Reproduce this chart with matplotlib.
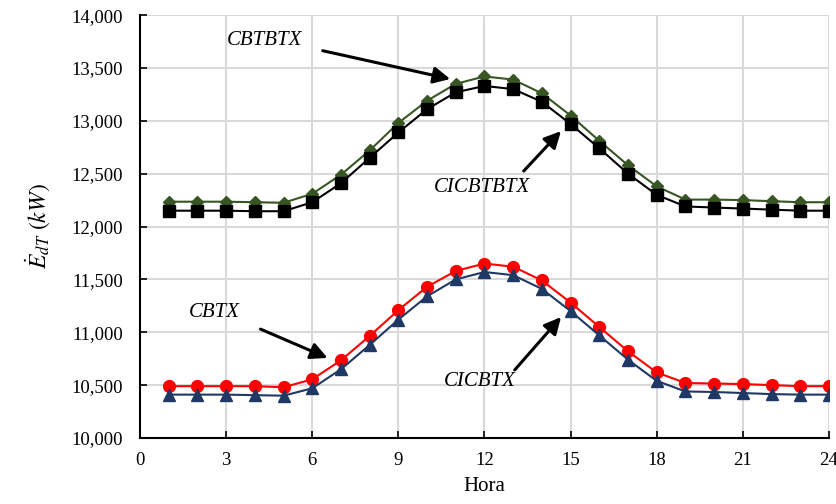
import matplotlib
matplotlib.use("Agg")
import matplotlib.pyplot as plt
from matplotlib.ticker import FuncFormatter

plt.rcParams['font.family'] = ['Liberation Serif', 'DejaVu Serif']
plt.rcParams['mathtext.fontset'] = 'stix'

hora = list(range(1, 25))
cbtbtx = [12235, 12235, 12235, 12230, 12225, 12310, 12490, 12720, 12980, 13190, 13350, 13420,
          13390, 13260, 13050, 12810, 12580, 12380, 12255, 12255, 12250, 12240, 12230, 12230]
cicbtbtx = [12150, 12150, 12150, 12145, 12145, 12230, 12410, 12650, 12890, 13110, 13270, 13330,
            13300, 13180, 12970, 12740, 12500, 12300, 12190, 12180, 12170, 12160, 12150, 12150]
cbtx = [10490, 10490, 10490, 10490, 10480, 10555, 10735, 10965, 11210, 11430, 11580, 11650,
        11620, 11490, 11280, 11050, 10820, 10620, 10520, 10515, 10510, 10500, 10490, 10490]
cicbtx = [10410, 10410, 10410, 10405, 10400, 10470, 10650, 10880, 11120, 11340, 11500, 11570,
          11540, 11410, 11200, 10970, 10740, 10540, 10440, 10435, 10425, 10415, 10410, 10410]

fig = plt.figure(figsize=(8.37, 5.04), dpi=100)
ax = fig.add_axes([0.1673, 0.131, 0.8231, 0.839])

ax.plot(hora, cbtbtx, color='#375623', lw=1.5, marker='D', ms=6.5, zorder=3)
ax.plot(hora, cicbtbtx, color='black', lw=1.5, marker='s', ms=8.5, zorder=3)
ax.plot(hora, cbtx, color='#FF0000', lw=1.5, marker='o', ms=8.5, zorder=3)
ax.plot(hora, cicbtx, color='#1F3864', lw=1.5, marker='^', ms=8.5, zorder=3)

ax.set_xlim(0, 24)
ax.set_ylim(10000, 14000)
ax.set_xticks(range(0, 25, 3))
ax.set_yticks(range(10000, 14001, 500))
ax.yaxis.set_major_formatter(FuncFormatter(lambda v, p: f'{int(v):,}'))
ax.grid(True, color='#d9d9d9', lw=1.5, zorder=0)
ax.set_axisbelow(True)
for s in ['top', 'right']:
    ax.spines[s].set_visible(False)
for s in ['left', 'bottom']:
    ax.spines[s].set_linewidth(1.5)
ax.tick_params(labelsize=13.5, direction='in', length=5, width=1.2)
ax.tick_params(axis='y', pad=12)
ax.tick_params(axis='x', pad=10)
ax.set_xlabel('Hora', fontsize=15, labelpad=6)
ax.set_ylabel(r'$\dot{E}_{dT}\ (kW)$', fontsize=17, labelpad=14)

arrow = dict(arrowstyle='-|>,head_length=1.0,head_width=0.5', color='black', lw=2.2)
notes = [
    ('CBTBTX', (4.35, 13760), (6.27, 13669), (10.9, 13390)),
    ('CICBTBTX', (11.9, 12370), (13.3, 12506), (14.73, 12922)),
    ('CBTX', (2.6, 11190), (4.11, 11040), (6.62, 10747)),
    ('CICBTX', (11.85, 10530), (12.99, 10624), (14.73, 11163)),
]
for label, tpos, tail, head in notes:
    ax.text(tpos[0], tpos[1], label, fontsize=15, style='italic', ha='center', va='center')
    ax.annotate('', xy=head, xytext=tail, arrowprops=arrow)

plt.savefig('out.png', dpi=100)
